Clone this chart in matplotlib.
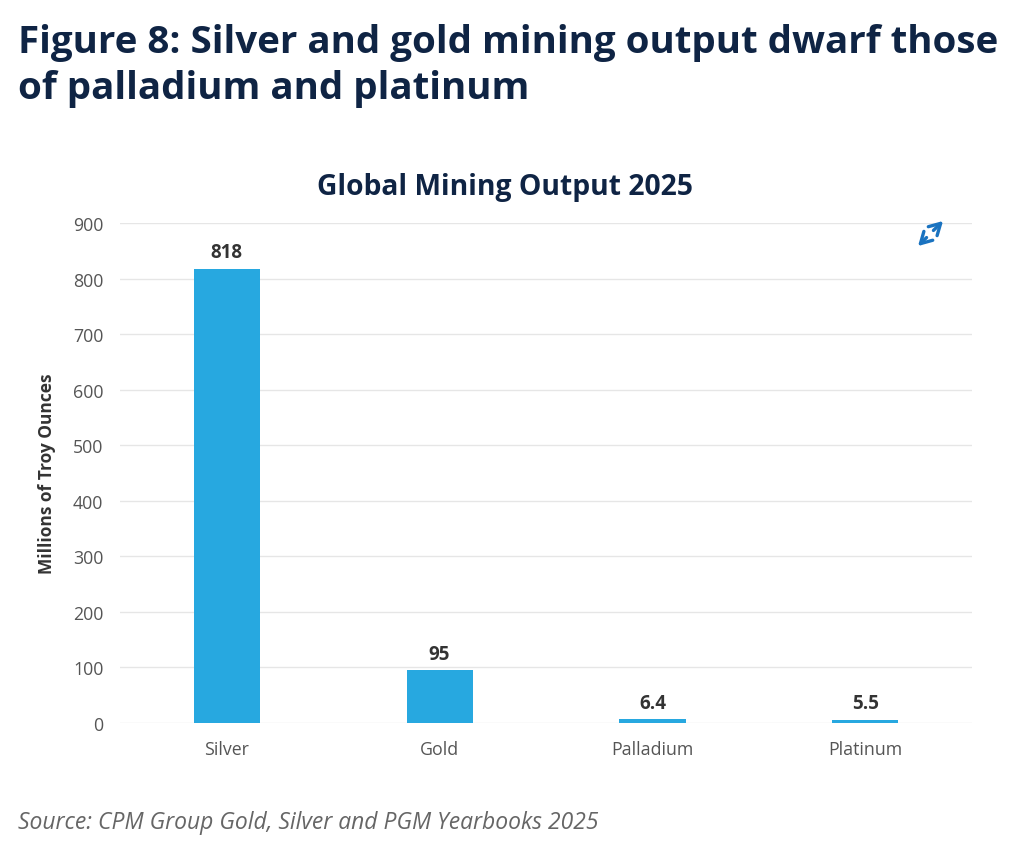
import matplotlib as mpl
mpl.use('Agg')
import matplotlib.pyplot as plt

# data
metals = ['Silver', 'Gold', 'Palladium', 'Platinum']
output_moz = [818, 95, 6.4, 5.5]
value_labels = ['818', '95', '6.4', '5.5']
y_ticks = [0, 100, 200, 300, 400, 500, 600, 700, 800, 900]

navy = '#0f2444'
bar_blue = '#27a8e0'
grey_txt = '#555555'

plt.rcParams['font.family'] = ['Open Sans', 'DejaVu Sans']

fig = plt.figure(figsize=(10.13, 8.45), dpi=100)
ax = fig.add_axes([0.1185, 0.1432, 0.841, 0.5917])

x = range(len(metals))
ax.bar(x, output_moz, width=0.31, color=bar_blue, zorder=3)
for xi, v, lab in zip(x, output_moz, value_labels):
    ax.text(xi, v + 12, lab, ha='center', va='bottom', fontsize=13.5,
            fontweight='bold', color='#333333')

ax.set_xlim(-0.5, 3.5)
ax.set_ylim(0, 900)
ax.set_yticks(y_ticks)
ax.set_xticks(list(x))
ax.set_xticklabels(metals)
ax.tick_params(axis='both', length=0, labelsize=12.8, labelcolor=grey_txt)
ax.tick_params(axis='y', pad=12)
ax.tick_params(axis='x', pad=12)
ax.grid(axis='y', color='#e6e6e6', linewidth=1, zorder=0)
for s in ax.spines.values():
    s.set_visible(False)
ax.set_ylabel('Millions of Troy Ounces', fontsize=12.5, fontweight='bold',
              color='#333333', labelpad=12)

# chart title sits a bit left of the axes centre in the original
fig.text(0.4985, 0.778, 'Global Mining Output 2025', ha='center', va='center',
         fontsize=20.3, fontweight='bold', color=navy)

fig.text(0.018, 0.972, 'Figure 8: Silver and gold mining output dwarf those\nof palladium and platinum',
         ha='left', va='top', fontsize=27.7, fontweight='bold', color=navy,
         linespacing=1.3)

# expand icon (two diagonal arrows)
icon = dict(arrowstyle='->,head_length=0.8,head_width=0.45', color='#1a73c0', lw=2.4)
ax.annotate('', xy=(0.9329, 0.7396), xytext=(0.9195, 0.7238),
            xycoords='figure fraction', arrowprops=icon)
ax.annotate('', xy=(0.9043, 0.7053), xytext=(0.9166, 0.7200),
            xycoords='figure fraction', arrowprops=icon)

fig.text(0.018, 0.012, 'Source: CPM Group Gold, Silver and PGM Yearbooks 2025',
         ha='left', va='bottom', fontsize=16.5, style='italic', color='#666666')

fig.savefig('out.png', dpi=100, facecolor='white')
plt.close(fig)
